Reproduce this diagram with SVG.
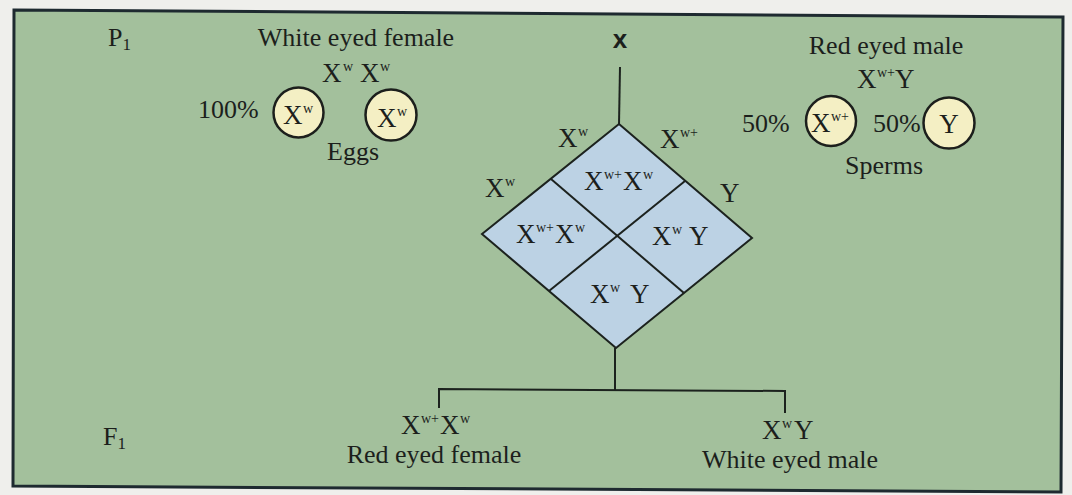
<svg xmlns="http://www.w3.org/2000/svg" width="1072" height="495" viewBox="0 0 1072 495">
<style>
text{font-family:"Liberation Serif","Times New Roman",serif;fill:#1c1f1c;font-size:26px}
.g{font-size:27px}
.sup{font-size:14px}
.sub{font-size:17px}
.cross{font-family:"Liberation Sans",Arial,sans-serif;font-weight:bold;font-size:26px}
.ln{stroke:#1c221e;stroke-width:2;fill:none}
.gam{fill:#f4efc4;stroke:#1c1f1c;stroke-width:2.5}
</style>
<rect width="1072" height="495" fill="#efefec"/>
<polygon points="14,10 1063,17 1061,492 13,486" fill="#a3c09c" stroke="#1e2a30" stroke-width="3"/>

<g id="generation-labels">
<text x="108" y="46">P<tspan class="sub" dy="4">1</tspan></text>
<text x="103" y="445">F<tspan class="sub" dy="4">1</tspan></text>
</g>

<g id="cross-sign">
<text class="cross" x="620" y="48" text-anchor="middle">x</text>
</g>

<g id="female-parent">
<text x="356" y="46" text-anchor="middle">White eyed female</text>
<text class="g" x="322" y="82">X<tspan class="sup" x="343" dy="-11">w</tspan><tspan x="360" dy="11">X</tspan><tspan class="sup" x="380" dy="-11">w</tspan></text>
<text x="198" y="118">100%</text>
<circle class="gam" cx="298.5" cy="112.5" r="25"/>
<text class="g" x="283" y="124">X<tspan class="sup" x="303" dy="-11">w</tspan></text>
<circle class="gam" cx="391" cy="115" r="25.5"/>
<text class="g" x="377" y="127">X<tspan class="sup" x="397" dy="-11">w</tspan></text>
<text x="353" y="160" text-anchor="middle">Eggs</text>
</g>

<g id="male-parent">
<text x="886" y="54" text-anchor="middle">Red eyed male</text>
<text class="g" x="857" y="88">X<tspan class="sup" x="877" dy="-11">w+</tspan><tspan x="895" dy="11">Y</tspan></text>
<text x="742" y="132">50%</text>
<circle class="gam" cx="831" cy="121" r="25"/>
<text class="g" x="811" y="132">X<tspan class="sup" x="831" dy="-11">w+</tspan></text>
<text x="873" y="132">50%</text>
<circle class="gam" cx="949" cy="123" r="25.5"/>
<text class="g" x="949" y="133" text-anchor="middle">Y</text>
<text x="884" y="174" text-anchor="middle">Sperms</text>
</g>

<g id="punnett-square">
<polygon points="619,124 752,238 616,348 482,234" fill="#bcd2e4" stroke="#1c221e" stroke-width="2"/>
<line class="ln" x1="551" y1="179" x2="684" y2="293"/>
<line class="ln" x1="685" y1="181" x2="549" y2="291"/>
<text class="g" x="558" y="147">X<tspan class="sup" x="578" dy="-11">w</tspan></text>
<text class="g" x="660" y="148">X<tspan class="sup" x="680" dy="-11">w+</tspan></text>
<text class="g" x="485" y="197">X<tspan class="sup" x="505" dy="-11">w</tspan></text>
<text class="g" x="720" y="202">Y</text>
<text class="g" x="584" y="190">X<tspan class="sup" x="604" dy="-11">w+</tspan><tspan x="623" dy="11">X</tspan><tspan class="sup" x="643" dy="-11">w</tspan></text>
<text class="g" x="516" y="243">X<tspan class="sup" x="536" dy="-11">w+</tspan><tspan x="555" dy="11">X</tspan><tspan class="sup" x="575" dy="-11">w</tspan></text>
<text class="g" x="652" y="245">X<tspan class="sup" x="672" dy="-11">w</tspan><tspan x="689" dy="11">Y</tspan></text>
<text class="g" x="590" y="303">X<tspan class="sup" x="610" dy="-11">w</tspan><tspan x="630" dy="11">Y</tspan></text>
</g>

<g id="offspring-female">
<text class="g" x="401" y="434">X<tspan class="sup" x="421" dy="-11">w+</tspan><tspan x="440" dy="11">X</tspan><tspan class="sup" x="460" dy="-11">w</tspan></text>
<text x="434" y="463" text-anchor="middle">Red eyed female</text>
</g>

<g id="offspring-male">
<text class="g" x="762" y="439">X<tspan class="sup" x="782" dy="-11">w</tspan><tspan x="794" dy="11">Y</tspan></text>
<text x="790" y="468" text-anchor="middle">White eyed male</text>
</g>

<g id="connectors">
<line class="ln" x1="620" y1="67" x2="619" y2="124"/>
<line class="ln" x1="615" y1="348" x2="615" y2="390"/>
<polyline class="ln" points="439,408 439,389 785,391 785,413"/>
</g>
</svg>
